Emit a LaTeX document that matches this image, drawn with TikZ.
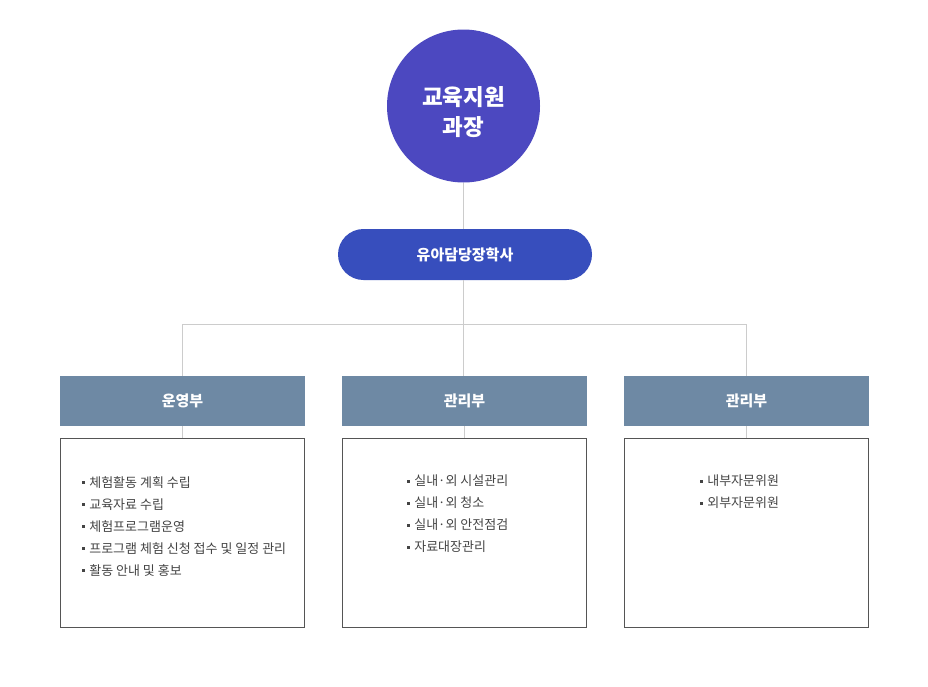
\documentclass[tikz,border=0pt]{standalone}
\usepackage{fontspec}
\setmainfont{Noto Sans CJK KR}
\definecolor{circblue}{RGB}{76,72,192}
\definecolor{pillblue}{RGB}{55,78,189}
\definecolor{headgray}{RGB}{110,137,164}
\definecolor{linegray}{RGB}{204,204,204}
\definecolor{boxborder}{RGB}{85,85,85}
\definecolor{txtgray}{RGB}{68,68,68}
\newcommand{\bul}{\textcolor{txtgray}{\raisebox{3.2pt}{\rule{2.6pt}{2.6pt}}}\hspace{4.5pt}}
\tikzset{
  conn/.style={draw=linegray, line width=0.8pt},
  headbox/.style={fill=headgray, minimum width=245pt, minimum height=50pt, inner sep=0pt,
    text=white, font=\fontsize{15pt}{17pt}\selectfont\bfseries},
  contbox/.style={draw=boxborder, line width=0.8pt, fill=white, minimum width=244pt, minimum height=189pt, inner sep=0pt},
  listtext/.style={anchor=north west, align=left, inner sep=0pt, text=txtgray,
    font=\fontsize{13pt}{22pt}\selectfont}
}
\begin{document}
\begin{tikzpicture}[x=1pt,y=-1pt]
\useasboundingbox (0,0) rectangle (928,686);
\fill[white] (0,0) rectangle (928,686);
% top
\node[circle, fill=circblue, minimum size=153pt, inner sep=0pt] (chief) at (463.5,106) {};
\node[text=white, align=center, inner sep=0pt,
  font=\fontsize{22.5pt}{30pt}\selectfont\bfseries] (chieftext) at (463.5,112) {교육지원\\과장};
\node[rounded corners=25.5pt, fill=pillblue, minimum width=254pt, minimum height=51pt, inner sep=0pt,
  text=white, font=\fontsize{15pt}{17pt}\selectfont\bfseries] (pill) at (465,254.5) {유아담당장학사};
% headers
\node[headbox] (h1) at (182.5,401) {운영부};
\node[headbox] (h2) at (464.5,401) {관리부};
\node[headbox] (h3) at (746.5,401) {관리부};
% content boxes
\node[contbox] (b1) at (182.5,533) {};
\node[contbox] (b2) at (464.5,533) {};
\node[contbox] (b3) at (746.5,533) {};
% connectors
\coordinate (j0) at (463.5,324);
\coordinate (j1) at (182.5,324);
\coordinate (j3) at (746.5,324);
\draw[conn] (chief.south) -- (pill.north -| chief.south);
\draw[conn] (pill.south -| chief.south) -- (j0);
\draw[conn] (j1) -- (j3);
\draw[conn] (j1) -- (h1.north);
\draw[conn] (j0) -- (h2.north -| j0);
\draw[conn] (j3) -- (h3.north);
\draw[conn] (h1.south) -- (b1.north);
\draw[conn] (h2.south) -- (b2.north);
\draw[conn] (h3.south) -- (b3.north);
% lists
\node[listtext] (l1) at (82,476) {\bul 체험활동 계획 수립\\\bul 교육자료 수립\\\bul 체험프로그램운영\\\bul 프로그램 체험 신청 접수 및 일정 관리\\\bul 활동 안내 및 홍보};
\node[listtext] (l2) at (407,475) {\bul 실내·외 시설관리\\\bul 실내·외 청소\\\bul 실내·외 안전점검\\\bul 자료대장관리};
\node[listtext] (l3) at (700,475) {\bul 내부자문위원\\\bul 외부자문위원};
\end{tikzpicture}
\end{document}
